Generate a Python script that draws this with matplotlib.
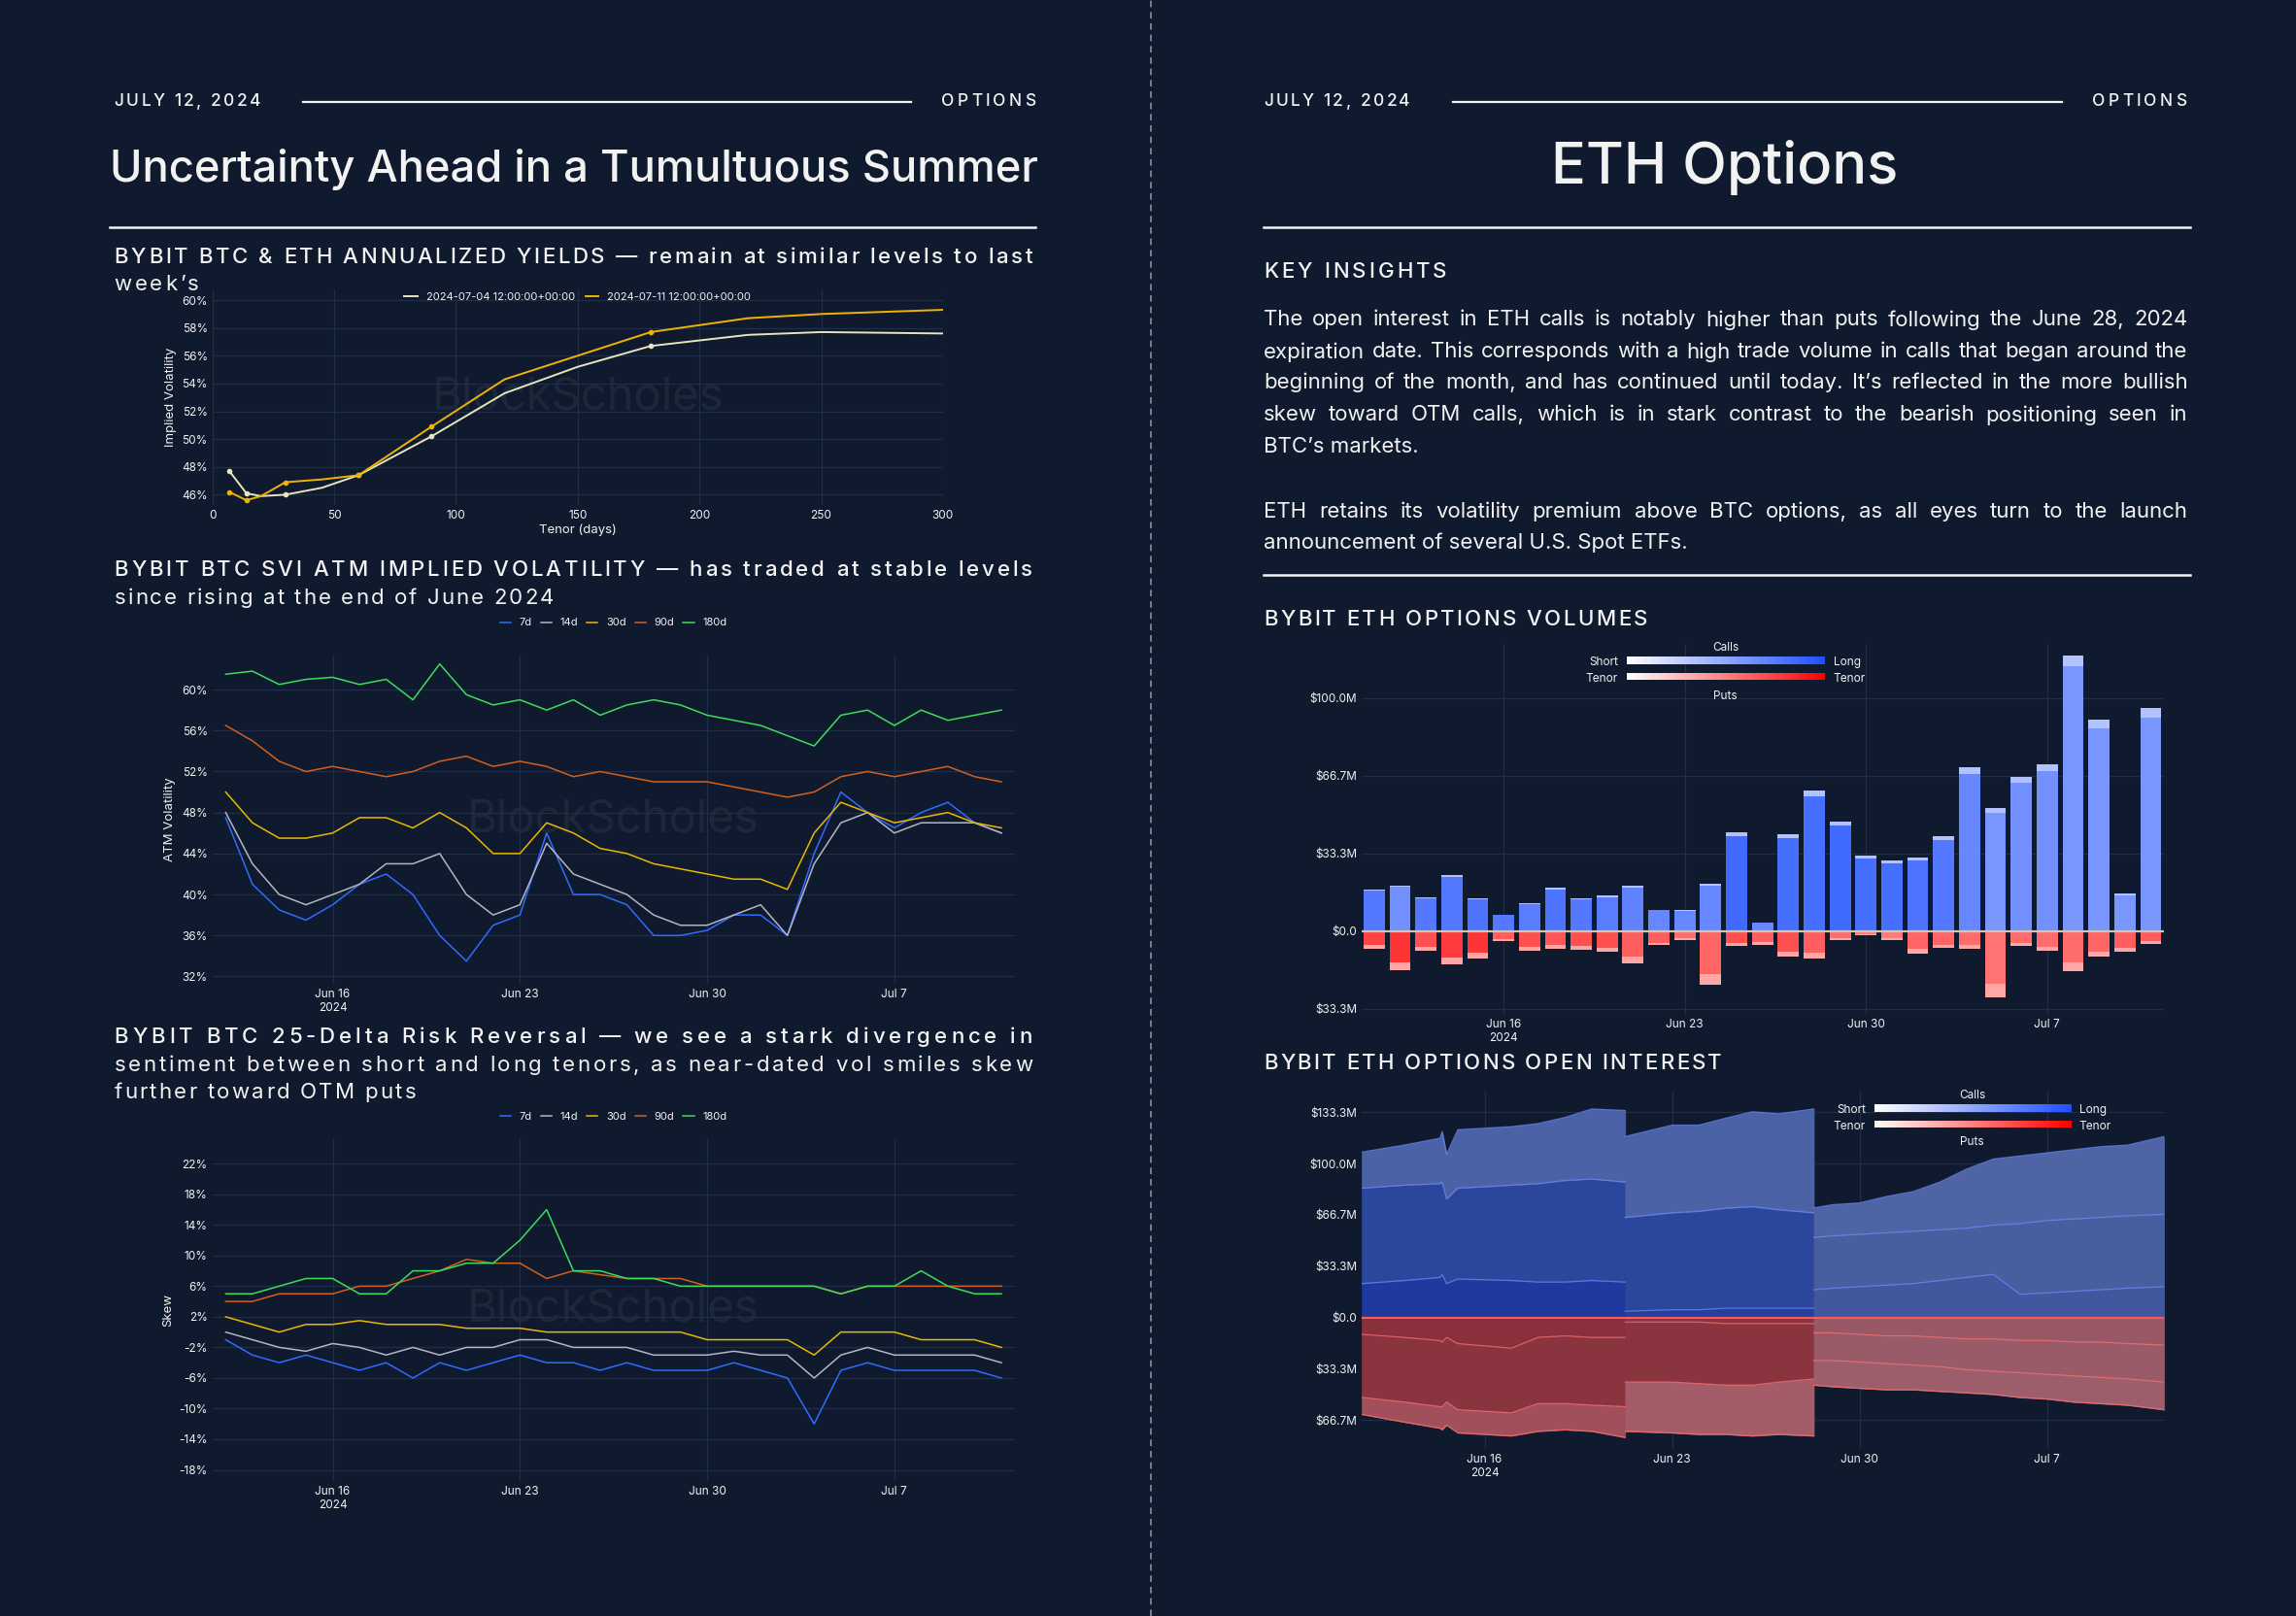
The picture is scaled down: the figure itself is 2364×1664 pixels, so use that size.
import numpy as np
import pandas as pd
import matplotlib
matplotlib.use("Agg")
import matplotlib.pyplot as plt
from matplotlib.colors import LinearSegmentedColormap
from matplotlib.font_manager import FontProperties

plt.rcParams['font.family'] = ['Inter', 'DejaVu Sans']

BG = '#0f1a2e'
GRID = '#1f2d4a'
TXT = '#f2f2f2'
W, H = 1568.0, 1104.0

# ---------------- data ----------------
tenor_0704 = [7, 14, 20, 30, 45, 60, 90, 120, 150, 180, 220, 250, 300]
iv_0704 = [47.7, 46.1, 45.9, 46.0, 46.5, 47.4, 50.2, 53.3, 55.2, 56.7, 57.5, 57.7, 57.6]
tenor_0711 = [7, 14, 20, 30, 45, 60, 90, 120, 150, 180, 220, 250, 300]
iv_0711 = [46.2, 45.6, 45.9, 46.9, 47.1, 47.4, 50.9, 54.3, 56.0, 57.7, 58.7, 59.0, 59.3]
marker_tenors = [7, 14, 30, 60, 90, 180]

day_labels = ["Jun 16\n2024", "Jun 23", "Jun 30", "Jul 7"]
day_ticks = ["2024-06-16", "2024-06-23", "2024-06-30", "2024-07-07"]

atm_7d = [47.5, 41, 38.5, 37.5, 39, 41, 42, 40, 36, 33.5, 37, 38, 46, 40, 40, 39, 36, 36, 36.5, 38, 38, 36, 44, 50, 48, 46.5, 48, 49, 47, 46]
atm_14d = [48, 43, 40, 39, 40, 41, 43, 43, 44, 40, 38, 39, 45, 42, 41, 40, 38, 37, 37, 38, 39, 36, 43, 47, 48, 46, 47, 47, 47, 46]
atm_30d = [50, 47, 45.5, 45.5, 46, 47.5, 47.5, 46.5, 48, 46.5, 44, 44, 47, 46, 44.5, 44, 43, 42.5, 42, 41.5, 41.5, 40.5, 46, 49, 48, 47, 47.5, 48, 47, 46.5]
atm_90d = [56.5, 55, 53, 52, 52.5, 52, 51.5, 52, 53, 53.5, 52.5, 53, 52.5, 51.5, 52, 51.5, 51, 51, 51, 50.5, 50, 49.5, 50, 51.5, 52, 51.5, 52, 52.5, 51.5, 51]
atm_180d = [61.5, 61.8, 60.5, 61, 61.2, 60.5, 61, 59, 62.5, 59.5, 58.5, 59, 58, 59, 57.5, 58.5, 59, 58.5, 57.5, 57, 56.5, 55.5, 54.5, 57.5, 58, 56.5, 58, 57, 57.5, 58]

rr_7d = [-1, -3, -4, -3, -4, -5, -4, -6, -4, -5, -4, -3, -4, -4, -5, -4, -5, -5, -5, -4, -5, -6, -12, -5, -4, -5, -5, -5, -5, -6]
rr_14d = [0, -1, -2, -2.5, -1.5, -2, -3, -2, -3, -2, -2, -1, -1, -2, -2, -2, -3, -3, -3, -2.5, -3, -3, -6, -3, -2, -3, -3, -3, -3, -4]
rr_30d = [2, 1, 0, 1, 1, 1.5, 1, 1, 1, 0.5, 0.5, 0.5, 0, 0, 0, 0, 0, 0, -1, -1, -1, -1, -3, 0, 0, 0, -1, -1, -1, -2]
rr_90d = [4, 4, 5, 5, 5, 6, 6, 7, 8, 9.5, 9, 9, 7, 8, 7.5, 7, 7, 7, 6, 6, 6, 6, 6, 5, 6, 6, 6, 6, 6, 6]
rr_180d = [5, 5, 6, 7, 7, 5, 5, 8, 8, 9, 9, 12, 16, 8, 8, 7, 7, 6, 6, 6, 6, 6, 6, 5, 6, 6, 8, 6, 5, 5]

vol_calls = [17.9, 19.6, 14.5, 24.2, 14.0, 7.0, 12.0, 18.5, 14.0, 15.1, 19.3, 9.2, 8.8, 20.3, 42.4, 3.6,
             41.4, 60.3, 47.0, 32.2, 30.2, 31.3, 40.7, 70.1, 52.9, 66.2, 71.3, 118.3, 90.6, 16.1, 95.5]
vol_puts = [7.6, 16.8, 8.3, 14.3, 11.7, 4.5, 8.4, 7.7, 8.1, 9.1, 13.8, 6.2, 3.8, 22.9, 6.6, 6.0,
            11.2, 11.7, 4.1, 1.8, 3.8, 9.7, 7.3, 7.6, 28.5, 6.6, 8.3, 17.1, 11.2, 9.0, 5.6]
call_tenor_mix = [0.75, 0.5, 0.75, 0.75, 0.8, 0.75, 0.7, 0.8, 0.75, 0.7, 0.65, 0.6, 0.6, 0.6, 0.9, 0.6,
                  0.85, 0.85, 0.9, 0.85, 0.85, 0.8, 0.75, 0.6, 0.45, 0.5, 0.5, 0.45, 0.45, 0.45, 0.45]
put_tenor_mix = [0.8, 0.9, 0.7, 0.85, 0.9, 0.6, 0.7, 0.65, 0.7, 0.7, 0.6, 0.6, 0.5, 0.55, 0.7, 0.6,
                 0.7, 0.6, 0.5, 0.4, 0.4, 0.55, 0.55, 0.5, 0.45, 0.5, 0.5, 0.5, 0.55, 0.6, 0.6]

oi_dates = ["2024-06-11 10:00", "2024-06-13 00:00", "2024-06-14 08:00", "2024-06-14 10:00", "2024-06-14 14:00",
            "2024-06-15 00:00", "2024-06-17 00:00", "2024-06-18 00:00", "2024-06-19 00:00", "2024-06-20 00:00", "2024-06-21 06:00",
            "2024-06-21 06:00", "2024-06-23 00:00", "2024-06-24 00:00", "2024-06-25 00:00", "2024-06-26 00:00", "2024-06-27 00:00", "2024-06-28 07:00",
            "2024-06-28 07:00", "2024-06-29 00:00", "2024-06-30 00:00", "2024-07-01 00:00", "2024-07-02 00:00", "2024-07-03 00:00", "2024-07-04 00:00",
            "2024-07-05 00:00", "2024-07-06 00:00", "2024-07-07 00:00", "2024-07-08 00:00", "2024-07-09 00:00", "2024-07-10 00:00", "2024-07-11 09:00"]
calls_total = [107.5, 112, 116.5, 120.8, 106, 122, 124, 126, 130, 135.5, 134.5,
               117.6, 125, 125, 129.5, 133.7, 132.4, 135.5,
               71.2, 73.3, 74.4, 78.6, 81.8, 88, 96.5, 103, 105, 107, 109, 111, 112, 117.6]
calls_mid = [84, 86, 87, 88, 77, 84, 86, 87, 89, 90, 88,
             65, 68, 69, 71, 72, 70, 68,
             52, 53, 54, 55, 56, 57, 58, 60, 61, 63, 64, 65, 66, 67]
calls_low = [22, 24, 26, 28, 22, 25, 24, 23, 23, 24, 23,
             4, 5, 5, 6, 6, 6, 6,
             18, 19, 20, 21, 22, 24, 26, 28, 15, 16, 17, 18, 19, 20]
puts_total = [-63, -68, -72, -73, -70, -75, -77, -74, -73, -74, -78,
              -74, -75, -76, -76, -77, -76, -77,
              -44, -45, -46, -47, -47, -48, -49, -50, -52, -53, -55, -56, -57, -60]
puts_mid = [-52, -55, -58, -58, -55, -60, -62, -56, -56, -57, -58,
            -42, -42, -43, -44, -44, -42, -40,
            -28, -28, -29, -30, -31, -32, -34, -35, -36, -37, -38, -39, -40, -42]
puts_low = [-11, -13, -15, -16, -13, -17, -20, -13, -12, -13, -13,
            -3, -3, -3, -4, -4, -4, -4,
            -10, -10, -11, -12, -12, -13, -14, -14, -15, -15, -16, -16, -17, -18]

series_names = ["7d", "14d", "30d", "90d", "180d"]
series_colors = ["#2f6bff", "#b4b6c0", "#e8b800", "#d2601a", "#3ddc5a"]

# ---------------- helpers ----------------
fig = plt.figure(figsize=(23.64, 16.64), dpi=100, facecolor=BG)
renderer = fig.canvas.get_renderer()
FIGPX = fig.bbox.width


def fx(px):
    return px / W


def fy(py):
    return 1 - (py + 1.5) / H


def rect(l, t, r, b):
    return [fx(l), 1 - b / H, fx(r) - fx(l), (b - t) / H]


def twidth(s, size, weight='normal'):
    fp = FontProperties(family=['Inter', 'DejaVu Sans'], size=size, weight=weight)
    w, _, _ = renderer.get_text_width_height_descent(s, fp, ismath=False)
    return w / FIGPX


def tracked(text, x0, x1, y, size, weight='normal'):
    # spread characters evenly so the line runs from x0 to x1 (letter-spaced text)
    widths = [twidth(c, size, weight) for c in text]
    extra = (fx(x1) - fx(x0) - sum(widths)) / max(len(text) - 1, 1)
    x = fx(x0)
    for c, w in zip(text, widths):
        if c != ' ':
            fig.text(x, fy(y), c, fontsize=size, color=TXT, va='center', fontweight=weight)
        x += w + extra


def justify(text, x0, x1, y, size):
    words = text.split()
    widths = [twidth(w, size) for w in words]
    gap = (fx(x1) - fx(x0) - sum(widths)) / max(len(words) - 1, 1)
    x = fx(x0)
    for w, wd in zip(words, widths):
        fig.text(x, fy(y), w, fontsize=size, color=TXT, va='center')
        x += wd + gap


def style_ax(ax):
    ax.set_facecolor(BG)
    for s in ax.spines.values():
        s.set_visible(False)
    ax.grid(True, color=GRID, lw=0.9)
    ax.set_axisbelow(True)
    ax.tick_params(colors=TXT, labelsize=8.5, length=0)


def date_axis(ax, lo, hi):
    ax.set_xlim(pd.Timestamp(lo), pd.Timestamp(hi))
    ax.set_xticks([pd.Timestamp(d) for d in day_ticks])
    ax.set_xticklabels(day_labels, fontsize=8.5, color=TXT)


def watermark(ax):
    ax.text(0.5, 0.5, "BlockScholes", transform=ax.transAxes, fontsize=34, color='#ffffff',
            alpha=0.06, ha='center', va='center', zorder=0)


def header(x0, x1):
    tracked("JULY 12, 2024", x0, x0 + 100, 68, 12.5, 'medium')
    tracked("OPTIONS", x1 - 64, x1, 68, 12.5, 'medium')
    fig.add_artist(plt.Line2D([fx(x0 + 129), fx(x1 - 85)], [fy(68), fy(68)], color=TXT, lw=1.6))


# divider
fig.add_artist(plt.Line2D([fx(786), fx(786)], [0, 1], color='#8a8f99', lw=1.2, ls=(0, (4, 3))))

# ---------------- left page ----------------
header(78, 707)
fig.text(fx(392), fy(114), "Uncertainty Ahead in a Tumultuous Summer", fontsize=32.6, color=TXT,
         ha='center', va='center', fontweight='medium')
fig.add_artist(plt.Line2D([fx(75), fx(707)], [fy(154), fy(154)], color=TXT, lw=1.8))

tracked("BYBIT BTC & ETH ANNUALIZED YIELDS — remain at similar levels to last", 78, 705, 174, 16, 'medium')
tracked("week’s", 78, 136, 193, 16)

ax1 = fig.add_axes(rect(145, 198, 644, 345))
style_ax(ax1)
ax1.plot(tenor_0704, iv_0704, color='#e8e4c0', lw=1.4, label='2024-07-04 12:00:00+00:00')
ax1.plot(tenor_0711, iv_0711, color='#f0b400', lw=1.4, label='2024-07-11 12:00:00+00:00')
ax1.plot([t for t in tenor_0704 if t in marker_tenors], [v for t, v in zip(tenor_0704, iv_0704) if t in marker_tenors],
         'o', color='#e8e4c0', ms=3)
ax1.plot([t for t in tenor_0711 if t in marker_tenors], [v for t, v in zip(tenor_0711, iv_0711) if t in marker_tenors],
         'o', color='#f0b400', ms=3)
ax1.set_xlim(0, 300)
ax1.set_ylim(45.26, 60.74)
ax1.set_yticks(range(46, 61, 2))
ax1.set_yticklabels([f"{v}%" for v in range(46, 61, 2)])
ax1.set_xlabel("Tenor (days)", color=TXT, fontsize=9.5, labelpad=2)
ax1.set_ylabel("Implied Volatility", color=TXT, fontsize=9.5)
ax1.legend(loc='center', bbox_to_anchor=(0.5, 0.966), ncol=2, frameon=False, fontsize=8,
           labelcolor=TXT, handlelength=1.2, columnspacing=1.0, markerscale=0.8)
watermark(ax1)

tracked("BYBIT BTC SVI ATM IMPLIED VOLATILITY — has traded at stable levels", 78, 705, 388, 16, 'medium')
tracked("since rising at the end of June 2024", 78, 378, 407, 16)

days = pd.date_range("2024-06-12", periods=30, freq="D")

ax2 = fig.add_axes(rect(145, 448, 693, 672))
style_ax(ax2)
for name, col, vals in zip(series_names, series_colors, [atm_7d, atm_14d, atm_30d, atm_90d, atm_180d]):
    ax2.plot(days, vals, color=col, lw=1.1, label=name)
date_axis(ax2, "2024-06-11 12:00", "2024-07-11 12:00")
ax2.set_ylim(31.3, 63.3)
ax2.set_yticks(range(32, 61, 4))
ax2.set_yticklabels([f"{v}%" for v in range(32, 61, 4)])
ax2.set_ylabel("ATM Volatility", color=TXT, fontsize=9.5)
ax2.legend(loc='center', bbox_to_anchor=(0.5, 1.1), ncol=5, frameon=False, fontsize=8,
           labelcolor=TXT, handlelength=1.0, columnspacing=0.8)
watermark(ax2)

tracked("BYBIT BTC 25-Delta Risk Reversal — we see a stark divergence in", 78, 705, 707, 16, 'medium')
tracked("sentiment between short and long tenors, as near-dated vol smiles skew", 78, 705, 726, 16)
tracked("further toward OTM puts", 78, 284, 745, 16)

ax3 = fig.add_axes(rect(145, 778, 693, 1012))
style_ax(ax3)
for name, col, vals in zip(series_names, series_colors, [rr_7d, rr_14d, rr_30d, rr_90d, rr_180d]):
    ax3.plot(days, vals, color=col, lw=1.1, label=name)
date_axis(ax3, "2024-06-11 12:00", "2024-07-11 12:00")
ax3.set_ylim(-19.5, 25.25)
ax3.set_yticks(range(-18, 23, 4))
ax3.set_yticklabels([f"{v}%" for v in range(-18, 23, 4)])
ax3.set_ylabel("Skew", color=TXT, fontsize=9.5)
ax3.legend(loc='center', bbox_to_anchor=(0.5, 1.064), ncol=5, frameon=False, fontsize=8,
           labelcolor=TXT, handlelength=1.0, columnspacing=0.8)
watermark(ax3)

# ---------------- right page ----------------
header(863, 1493)
fig.text(fx(1178), fy(113), "ETH Options", fontsize=43, color=TXT, ha='center', va='center', fontweight='medium')
fig.add_artist(plt.Line2D([fx(863), fx(1496)], [fy(154), fy(154)], color=TXT, lw=1.8))
tracked("KEY INSIGHTS", 863, 988, 184, 16, 'medium')

body = [
    ("The open interest in ETH calls is notably higher than puts following the June 28, 2024", 217, True),
    ("expiration date. This corresponds with a high trade volume in calls that began around the", 239, True),
    ("beginning of the month, and has continued until today. It’s reflected in the more bullish", 260, True),
    ("skew toward OTM calls, which is in stark contrast to the bearish positioning seen in", 282, True),
    ("BTC’s markets.", 304, False),
    ("ETH retains its volatility premium above BTC options, as all eyes turn to the launch", 348, True),
    ("announcement of several U.S. Spot ETFs.", 369, False),
]
# pick a body size so the widest line nearly fills the column with ordinary spacing
widest = max(twidth(line, 10) for line, _, j in body if j)
body_size = min(10 * (fx(1494) - fx(863)) / widest * 0.985, 16)
for line, y, just in body:
    if just:
        justify(line, 863, 1494, y, body_size)
    else:
        fig.text(fx(863), fy(y), line, fontsize=body_size, color=TXT, va='center')
fig.add_artist(plt.Line2D([fx(863), fx(1496)], [fy(391), fy(391)], color=TXT, lw=1.8))

tracked("BYBIT ETH OPTIONS VOLUMES", 863, 1125, 422, 16, 'medium')
tracked("BYBIT ETH OPTIONS OPEN INTEREST", 863, 1176, 725, 16, 'medium')

calls_cmap = LinearSegmentedColormap.from_list("c", ["#ffffff", "#1f4fff"])
puts_cmap = LinearSegmentedColormap.from_list("p", ["#ffffff", "#ff0000"])


def money_axis(ax, ticks):
    ax.set_yticks(ticks)
    ax.set_yticklabels(["$0.0" if t == 0 else f"${abs(t):.1f}M" for t in ticks])


# volumes
ax4 = fig.add_axes(rect(930, 440, 1478, 693))
style_ax(ax4)
bar_days = pd.date_range("2024-06-11", periods=31, freq="D")
for d, c, p, cm, pm in zip(bar_days, vol_calls, vol_puts, call_tenor_mix, put_tenor_mix):
    ax4.bar(d, c, width=0.82, color=calls_cmap(0.35 + 0.55 * cm), edgecolor='none')
    ax4.bar(d, -p, width=0.82, color=puts_cmap(0.3 + 0.55 * pm), edgecolor='none')
    ax4.bar(d, c * 0.04, bottom=c * 0.96, width=0.82, color=calls_cmap(0.35), edgecolor='none')
    ax4.bar(d, -p * 0.2, bottom=-p * 0.8, width=0.82, color=puts_cmap(0.35), edgecolor='none')
ax4.axhline(0, color='#c8c8c8', lw=1.6)
date_axis(ax4, "2024-06-10 12:30", "2024-07-11 12:30")
ax4.set_ylim(-35.8, 123.1)
money_axis(ax4, [-33.3, 0, 33.3, 66.7, 100.0])

# open interest
ax5 = fig.add_axes(rect(930, 745, 1478, 990))
style_ax(ax5)
t = pd.to_datetime(oi_dates, format="%Y-%m-%d %H:%M")
periods = [(0, 11), (11, 18), (18, 32)]
call_cols = [["#1e3a9e", "#2b479c", "#4b62a6"], ["#23409e", "#2b479c", "#4b62a6"], ["#41589e", "#475e9f", "#4e64a4"]]
put_cols = [["#8a2f3c", "#8a3440", "#a14f5b"], ["#8a3440", "#8a3440", "#a45c69"], ["#985866", "#9a5b69", "#9c5e6b"]]
for (a, b), cc, pc in zip(periods, call_cols, put_cols):
    tt = t[a:b]
    z = np.zeros(b - a)
    lo, mid, top = calls_low[a:b], calls_mid[a:b], calls_total[a:b]
    ax5.fill_between(tt, z, lo, color=cc[0], lw=0.5, edgecolor=cc[0])
    ax5.fill_between(tt, lo, mid, color=cc[1], lw=0.5, edgecolor=cc[1])
    ax5.fill_between(tt, mid, top, color=cc[2], lw=0.5, edgecolor=cc[2])
    for s in (lo, mid, top):
        ax5.plot(tt, s, color='#6f8cff', lw=0.9, alpha=0.7)
    plo, pmid, ptop = puts_low[a:b], puts_mid[a:b], puts_total[a:b]
    ax5.fill_between(tt, z, plo, color=pc[0], lw=0.5, edgecolor=pc[0])
    ax5.fill_between(tt, plo, pmid, color=pc[1], lw=0.5, edgecolor=pc[1])
    ax5.fill_between(tt, pmid, ptop, color=pc[2], lw=0.5, edgecolor=pc[2])
    for s in (plo, pmid, ptop):
        ax5.plot(tt, s, color='#ff7575', lw=0.9, alpha=0.7)
ax5.axhline(0, color='#ff5a5a', lw=1.5)
date_axis(ax5, "2024-06-11 10:00", "2024-07-11 09:00")
ax5.set_ylim(-85.6, 147.5)
money_axis(ax5, [-66.7, -33.3, 0, 33.3, 66.7, 100.0, 133.3])


def tenor_legend(xl, xr, yc, yp, yt, yb):
    grad = np.linspace(0, 1, 256)[None, :]
    for y, cmap in ((yt, calls_cmap), (yb, puts_cmap)):
        lax = fig.add_axes(rect(xl, y - 2.5, xr, y + 2.5))
        lax.imshow(grad, aspect='auto', cmap=cmap)
        lax.axis('off')
    fig.text(fx((xl + xr) / 2), fy(yc), "Calls", fontsize=8.5, color=TXT, ha='center', va='center')
    fig.text(fx((xl + xr) / 2), fy(yp), "Puts", fontsize=8.5, color=TXT, ha='center', va='center')
    fig.text(fx(xl - 6), fy(yt), "Short", fontsize=8.5, color=TXT, ha='right', va='center')
    fig.text(fx(xl - 6), fy(yb), "Tenor", fontsize=8.5, color=TXT, ha='right', va='center')
    fig.text(fx(xr + 6), fy(yt), "Long", fontsize=8.5, color=TXT, ha='left', va='center')
    fig.text(fx(xr + 6), fy(yb), "Tenor", fontsize=8.5, color=TXT, ha='left', va='center')


tenor_legend(1111, 1246, 441, 474, 451, 462)
tenor_legend(1280, 1414, 747, 779, 757, 768)

fig.savefig("out.png", dpi=100, facecolor=BG)
